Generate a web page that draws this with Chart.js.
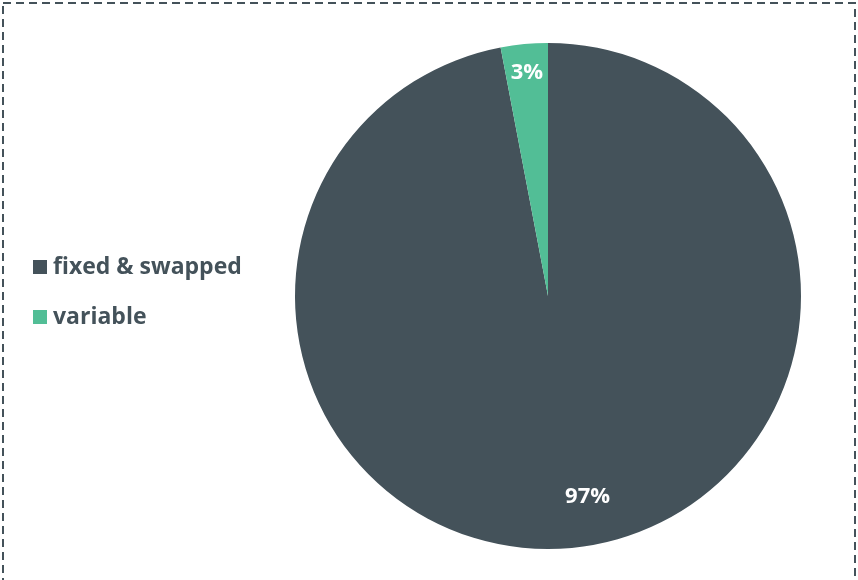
<!DOCTYPE html>
<html>
<head>
<meta charset="utf-8">
<script src="https://cdn.jsdelivr.net/npm/chart.js@4"></script>
<style>
  html, body { margin: 0; padding: 0; background: #fff; }
  #wrap { position: relative; width: 858px; height: 580px; }
</style>
</head>
<body>
<div id="wrap"><canvas id="pieChart" width="858" height="580"></canvas></div>
<script>
const categories = ["fixed & swapped", "variable"];
const shares = [97, 3];
const sliceColors = ["#44525A", "#52BE96"];

const textColor = "#44525A";
const fontFamily = "'Open Sans', 'Noto Sans', sans-serif";

// dashed frame round the whole picture
const framePlugin = {
  id: "frame",
  beforeDraw(chart) {
    const ctx = chart.ctx;
    ctx.save();
    ctx.strokeStyle = "#44525A";
    ctx.lineWidth = 2;
    ctx.setLineDash([8, 5]);
    ctx.strokeRect(3, 3, 852, 590);
    ctx.restore();
  }
};

// percentage labels inside the slices
const sliceLabels = {
  id: "sliceLabels",
  afterDatasetsDraw(chart, args, opts) {
    const ctx = chart.ctx;
    const meta = chart.getDatasetMeta(0);
    ctx.save();
    ctx.fillStyle = "#fff";
    ctx.font = "bold 22px " + fontFamily;
    ctx.textAlign = "center";
    ctx.textBaseline = "middle";
    meta.data.forEach((arc, i) => {
      const p = arc.getProps(["x", "y", "startAngle", "endAngle", "outerRadius"], true);
      const a = (p.startAngle + p.endAngle) / 2 + opts.shift[i];
      const r = p.outerRadius * opts.radius[i];
      ctx.fillText(shares[i] + "%", p.x + Math.cos(a) * r, p.y + Math.sin(a) * r);
    });
    ctx.restore();
  }
};

// legend on the left
const sideLegend = {
  id: "sideLegend",
  afterDraw(chart, args, opts) {
    const ctx = chart.ctx;
    ctx.save();
    ctx.font = "bold 23px " + fontFamily;
    ctx.textBaseline = "middle";
    categories.forEach((c, i) => {
      const y = opts.top + i * opts.step;
      ctx.fillStyle = sliceColors[i];
      ctx.fillRect(opts.left, y - 7, 14, 14);
      ctx.fillStyle = textColor;
      ctx.fillText(c, opts.left + 20, y);
    });
    ctx.restore();
  }
};

new Chart(document.getElementById("pieChart"), {
  type: "pie",
  data: {
    labels: categories,
    datasets: [{
      data: shares,
      backgroundColor: sliceColors,
      borderWidth: 0
    }]
  },
  options: {
    responsive: false,
    animation: false,
    layout: { padding: { left: 295, right: 57, top: 43, bottom: 31 } },
    plugins: {
      legend: { display: false },
      tooltip: { enabled: false },
      sliceLabels: { radius: [0.81, 0.885], shift: [-0.1, 0] },
      sideLegend: { left: 33, top: 267, step: 50 }
    }
  },
  plugins: [framePlugin, sliceLabels, sideLegend]
});
</script>
</body>
</html>
